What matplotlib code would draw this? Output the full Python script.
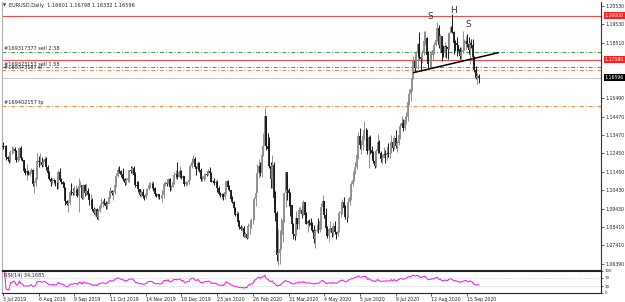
import numpy as np
import pandas as pd
import matplotlib
matplotlib.use("Agg")
import matplotlib.pyplot as plt

# ---- data (EURUSD daily, 3 Jul 2019 .. 25 Sep 2020) ----
symbol_title = "EURUSD,Daily  1.16601 1.16798 1.16332 1.16596"
first_open = 1.1284
holidays = ["2019-12-25", "2020-01-01"]

closes = [
    1.1283, 1.1284, 1.1225,
    1.1214, 1.1207, 1.1252, 1.1254, 1.1271,
    1.1260, 1.1211, 1.1223, 1.1275, 1.1219,
    1.1209, 1.1151, 1.1139, 1.1147, 1.1127,
    1.1142, 1.1156, 1.1075, 1.1085, 1.1109,
    1.1203, 1.1198, 1.1201, 1.1181, 1.1201,
    1.1215, 1.1172, 1.1138, 1.1106, 1.1090,
    1.1094, 1.1097, 1.1082, 1.1081, 1.1143,
    1.1100, 1.1089, 1.1076, 1.1058, 1.0984,
    1.0970, 1.0973, 1.1034, 1.1032, 1.1027,
    1.1043, 1.1044, 1.1011, 1.1065, 1.1073,
    1.1003, 1.1074, 1.1028, 1.1041, 1.1017,
    1.0990, 1.0992, 1.0940, 1.0921, 1.0940,
    1.0899, 1.0932, 1.0959, 1.0966, 1.0979,
    1.0971, 1.0955, 1.0970, 1.1007, 1.1042,
    1.1030, 1.1034, 1.1074, 1.1123, 1.1155,
    1.1151, 1.1125, 1.1132, 1.1105, 1.1081,
    1.1100, 1.1111, 1.1152, 1.1151, 1.1165,
    1.1127, 1.1074, 1.1069, 1.1050, 1.1018,
    1.1032, 1.1010, 1.1006, 1.1022, 1.1051,
    1.1074, 1.1077, 1.1077, 1.1054, 1.1021,
    1.1013, 1.1021, 1.1008, 1.1009, 1.1017,
    1.1078, 1.1082, 1.1077, 1.1105, 1.1059,
    1.1064, 1.1091, 1.1127, 1.1131, 1.1118,
    1.1143, 1.1151, 1.1112, 1.1122, 1.1076,
    1.1087, 1.1089, 1.1099, 1.1177,
    1.1200, 1.1213, 1.1170, 1.1159,
    1.1195, 1.1152, 1.1106, 1.1106, 1.1120,
    1.1135, 1.1129, 1.1151, 1.1136, 1.1091,
    1.1096, 1.1082, 1.1091, 1.1055, 1.1023,
    1.1019, 1.1022, 1.1006, 1.1032, 1.1093,
    1.1062, 1.1043, 1.0998, 1.0980, 1.0944,
    1.0910, 1.0916, 1.0871, 1.0840, 1.0832,
    1.0838, 1.0790, 1.0804, 1.0783, 1.0848,
    1.0854, 1.0880, 1.0880, 1.0996, 1.1026,
    1.1137, 1.1174, 1.1136, 1.1239, 1.1285,
    1.1448, 1.1285, 1.1269, 1.1175, 1.1106,
    1.1180, 1.1000, 1.0918, 1.0691, 1.0697,
    1.0721, 1.0797, 1.0882, 1.1030, 1.1142,
    1.1045, 1.1031, 1.0962, 1.0857, 1.0806,
    1.0794, 1.0891, 1.0860, 1.0936, 1.0937,
    1.0915, 1.0977, 1.0907, 1.0860, 1.0876,
    1.0862, 1.0855, 1.0824, 1.0776, 1.0821,
    1.0826, 1.0823, 1.0875, 1.0954, 1.0982,
    1.0906, 1.0838, 1.0795, 1.0830, 1.0839,
    1.0807, 1.0849, 1.0815, 1.0806, 1.0819,
    1.0917, 1.0923, 1.0977, 1.0948, 1.0899,
    1.0898, 1.0980, 1.1005, 1.1078, 1.1100,
    1.1137, 1.1171, 1.1234, 1.1339, 1.1290,
    1.1292, 1.1340, 1.1374, 1.1373, 1.1256,
    1.1333, 1.1264, 1.1249, 1.1206, 1.1178,
    1.1258, 1.1308, 1.1250, 1.1217, 1.1219,
    1.1241, 1.1234, 1.1250, 1.1240, 1.1246,
    1.1309, 1.1273, 1.1331, 1.1287, 1.1300,
    1.1344, 1.1398, 1.1412, 1.1384, 1.1427,
    1.1445, 1.1526, 1.1569, 1.1596, 1.1656,
    1.1752, 1.1716, 1.1793, 1.1846, 1.1774,
    1.1762, 1.1798, 1.1860, 1.1877, 1.1787,
    1.1735, 1.1738, 1.1786, 1.1813, 1.1842,
    1.1869, 1.1932, 1.1837, 1.1889, 1.1795,
    1.1793, 1.1835, 1.1830, 1.1820, 1.1904,
    1.1937, 1.1913, 1.1853, 1.1851, 1.1838,
    1.1815, 1.1780, 1.1800, 1.1813, 1.1844,
    1.1864, 1.1845, 1.1814, 1.1853, 1.1838,
    1.1771, 1.1703, 1.1659, 1.1670, 1.16596,
]

highs = [
    1.1306, 1.1294, 1.1292,
    1.1232, 1.1225, 1.1265, 1.1286, 1.1279,
    1.1280, 1.1264, 1.1233, 1.1282, 1.1286,
    1.1226, 1.1211, 1.1164, 1.1188, 1.1153,
    1.1150, 1.1166, 1.1161, 1.1094, 1.1117,
    1.1249, 1.1230, 1.1250, 1.1225, 1.1217,
    1.1230, 1.1228, 1.1181, 1.1148, 1.1114,
    1.1109, 1.1108, 1.1102, 1.1093, 1.1153,
    1.1164, 1.1112, 1.1096, 1.1090, 1.1063,
    1.0988, 1.0991, 1.1045, 1.1085, 1.1055,
    1.1066, 1.1073, 1.1055, 1.1109, 1.1096,
    1.1058, 1.1076, 1.1075, 1.1075, 1.1055,
    1.1026, 1.1024, 1.1000, 1.0950, 1.0946,
    1.0945, 1.0943, 1.0964, 1.0999, 1.0990,
    1.0999, 1.0985, 1.0985, 1.1034, 1.1063,
    1.1047, 1.1044, 1.1086, 1.1140, 1.1172,
    1.1179, 1.1154, 1.1138, 1.1163, 1.1110,
    1.1109, 1.1122, 1.1156, 1.1175, 1.1175,
    1.1176, 1.1141, 1.1093, 1.1092, 1.1053,
    1.1043, 1.1048, 1.1017, 1.1033, 1.1054,
    1.1089, 1.1088, 1.1096, 1.1087, 1.1063,
    1.1031, 1.1025, 1.1024, 1.1015, 1.1046,
    1.1090, 1.1093, 1.1094, 1.1109, 1.1112,
    1.1072, 1.1095, 1.1145, 1.1154, 1.1200,
    1.1154, 1.1174, 1.1152, 1.1128, 1.1124,
    1.1094, 1.1093, 1.1104, 1.1188,
    1.1222, 1.1239, 1.1226, 1.1177,
    1.1206, 1.1197, 1.1166, 1.1119, 1.1125,
    1.1139, 1.1149, 1.1162, 1.1173, 1.1144,
    1.1100, 1.1111, 1.1097, 1.1097, 1.1065,
    1.1036, 1.1030, 1.1029, 1.1040, 1.1096,
    1.1097, 1.1073, 1.1047, 1.1011, 1.0985,
    1.0953, 1.0929, 1.0923, 1.0880, 1.0852,
    1.0848, 1.0850, 1.0815, 1.0813, 1.0863,
    1.0871, 1.0891, 1.0890, 1.1004, 1.1053,
    1.1185, 1.1213, 1.1198, 1.1252, 1.1356,
    1.1495, 1.1448, 1.1355, 1.1334, 1.1200,
    1.1238, 1.1201, 1.1039, 1.0932, 1.0832,
    1.0827, 1.0890, 1.0894, 1.1035, 1.1146,
    1.1127, 1.1056, 1.1034, 1.0965, 1.0865,
    1.0839, 1.0929, 1.0891, 1.0951, 1.0951,
    1.0955, 1.0990, 1.0978, 1.0924, 1.0880,
    1.0888, 1.0889, 1.0868, 1.0851, 1.0829,
    1.0858, 1.0891, 1.0888, 1.0972, 1.1019,
    1.0977, 1.0948, 1.0849, 1.0839, 1.0875,
    1.0850, 1.0865, 1.0876, 1.0815, 1.0838,
    1.0931, 1.0975, 1.0998, 1.1008, 1.0960,
    1.0914, 1.1000, 1.1030, 1.1092, 1.1147,
    1.1155, 1.1197, 1.1258, 1.1361, 1.1384,
    1.1321, 1.1351, 1.1422, 1.1387, 1.1330,
    1.1339, 1.1348, 1.1284, 1.1257, 1.1257,
    1.1272, 1.1349, 1.1321, 1.1260, 1.1244,
    1.1280, 1.1266, 1.1288, 1.1303, 1.1255,
    1.1345, 1.1322, 1.1344, 1.1371, 1.1316,
    1.1375, 1.1410, 1.1452, 1.1433, 1.1448,
    1.1470, 1.1541, 1.1601, 1.1620, 1.1660,
    1.1778, 1.1781, 1.1806, 1.1851, 1.1908,
    1.1780, 1.1812, 1.1916, 1.1915, 1.1884,
    1.1806, 1.1808, 1.1809, 1.1831, 1.1854,
    1.1885, 1.1966, 1.1951, 1.1900, 1.1883,
    1.1842, 1.1858, 1.1838, 1.1900, 1.1913,
    1.1951, 1.2011, 1.1917, 1.1868, 1.1884,
    1.1840, 1.1827, 1.1830, 1.1917, 1.1870,
    1.1888, 1.1901, 1.1882, 1.1855, 1.1872,
    1.1870, 1.1781, 1.1726, 1.1687, 1.16798,
]

lows = [
    1.1270, 1.1275, 1.1207,
    1.1202, 1.1193, 1.1200, 1.1242, 1.1245,
    1.1255, 1.1201, 1.1201, 1.1208, 1.1210,
    1.1202, 1.1146, 1.1127, 1.1101, 1.1125,
    1.1122, 1.1137, 1.1066, 1.1027, 1.1065,
    1.1107, 1.1172, 1.1180, 1.1172, 1.1174,
    1.1190, 1.1155, 1.1137, 1.1101, 1.1066,
    1.1080, 1.1078, 1.1066, 1.1052, 1.1051,
    1.1092, 1.1076, 1.1068, 1.1052, 1.0965,
    1.0960, 1.0926, 1.0965, 1.1020, 1.1017,
    1.1019, 1.1033, 1.1004, 1.0927, 1.1060,
    1.0993, 1.0997, 1.1013, 1.1016, 1.1005,
    1.0965, 1.0981, 1.0932, 1.0914, 1.0905,
    1.0885, 1.0879, 1.0923, 1.0945, 1.0950,
    1.0964, 1.0940, 1.0942, 1.0975, 1.1000,
    1.1018, 1.0991, 1.1023, 1.1063, 1.1118,
    1.1139, 1.1116, 1.1103, 1.1095, 1.1072,
    1.1073, 1.1089, 1.1086, 1.1138, 1.1133,
    1.1122, 1.1063, 1.1063, 1.1036, 1.1013,
    1.1008, 1.1000, 1.0989, 1.0997, 1.1015,
    1.1043, 1.1056, 1.1051, 1.1042, 1.1014,
    1.1007, 1.0998, 1.0993, 1.0999, 1.0981,
    1.1003, 1.1065, 1.1066, 1.1075, 1.1040,
    1.1044, 1.1060, 1.1076, 1.1105, 1.1107,
    1.1117, 1.1133, 1.1106, 1.1106, 1.1066,
    1.1068, 1.1073, 1.1080, 1.1097,
    1.1168, 1.1195, 1.1164, 1.1126,
    1.1148, 1.1142, 1.1092, 1.1093, 1.1095,
    1.1103, 1.1123, 1.1125, 1.1127, 1.1086,
    1.1083, 1.1072, 1.1078, 1.1036, 1.1018,
    1.1009, 1.0998, 1.0992, 1.0996, 1.1023,
    1.1050, 1.1039, 1.0994, 1.0972, 1.0940,
    1.0904, 1.0890, 1.0868, 1.0833, 1.0827,
    1.0822, 1.0786, 1.0780, 1.0778, 1.0781,
    1.0805, 1.0836, 1.0857, 1.0879, 1.0958,
    1.1032, 1.1113, 1.1123, 1.1117, 1.1233,
    1.1327, 1.1262, 1.1259, 1.1164, 1.1054,
    1.1054, 1.0962, 1.0873, 1.0655, 1.0636,
    1.0637, 1.0719, 1.0760, 1.0869, 1.0953,
    1.0988, 1.0957, 1.0905, 1.0840, 1.0779,
    1.0769, 1.0798, 1.0829, 1.0832, 1.0921,
    1.0893, 1.0906, 1.0887, 1.0856, 1.0812,
    1.0848, 1.0826, 1.0813, 1.0757, 1.0727,
    1.0812, 1.0811, 1.0816, 1.0832, 1.0924,
    1.0891, 1.0824, 1.0782, 1.0767, 1.0816,
    1.0790, 1.0793, 1.0806, 1.0775, 1.0795,
    1.0814, 1.0897, 1.0916, 1.0936, 1.0887,
    1.0871, 1.0895, 1.0960, 1.0990, 1.1065,
    1.1093, 1.1132, 1.1158, 1.1215, 1.1272,
    1.1240, 1.1262, 1.1317, 1.1304, 1.1243,
    1.1168, 1.1242, 1.1222, 1.1195, 1.1168,
    1.1169, 1.1241, 1.1245, 1.1200, 1.1186,
    1.1221, 1.1191, 1.1210, 1.1226, 1.1221,
    1.1247, 1.1261, 1.1270, 1.1276, 1.1254,
    1.1294, 1.1327, 1.1389, 1.1370, 1.1376,
    1.1407, 1.1423, 1.1510, 1.1535, 1.1585,
    1.1652, 1.1690, 1.1715, 1.1710, 1.1760,
    1.1696, 1.1740, 1.1786, 1.1837, 1.1754,
    1.1712, 1.1711, 1.1718, 1.1759, 1.1790,
    1.1834, 1.1864, 1.1825, 1.1802, 1.1753,
    1.1774, 1.1776, 1.1769, 1.1762, 1.1815,
    1.1903, 1.1904, 1.1789, 1.1807, 1.1780,
    1.1807, 1.1765, 1.1754, 1.1798, 1.1810,
    1.1820, 1.1826, 1.1790, 1.1737, 1.1822,
    1.1735, 1.1692, 1.1654, 1.1627, 1.16332,
]

# horizontal lines drawn on the chart
hline_red = [1.20000, 1.17580]
current_price = 1.16596
order_lines = [
    (1.1800, "#169317377 sell 2.58", "green"),
    (1.1717, "#169373157 sell 1.58", "green"),
    (1.1701, "#169373157 sl", "orange"),
    (1.1505, "#169402157 tp", "orange"),
]
# neckline (bar index, price)
neck_x = [276, 333]
neck_y = [1.1688, 1.1797]
# head & shoulders marks (bar index, price, text)
hs_marks = [(287, 1.1993, "S"), (302.6, 1.2031, "H"), (312.7, 1.1954, "S")]

price_ticks = [1.06390, 1.07410, 1.08410, 1.09430, 1.10430, 1.11450, 1.12450,
               1.13470, 1.14470, 1.15490, 1.18510, 1.19530, 1.20530]
rsi_title = "RSI(14) 34.1685"
rsi_levels = [70, 30]

label_dates = ["2019-07-03", "2019-08-06", "2019-09-09", "2019-10-11", "2019-11-14",
               "2019-12-18", "2020-01-23", "2020-02-26", "2020-03-31", "2020-05-04",
               "2020-06-05", "2020-07-09", "2020-08-12", "2020-09-15"]

# ---- derived ----
dates = pd.bdate_range("2019-07-03", "2020-09-25")
dates = dates[~dates.isin(pd.to_datetime(holidays))]
closes = np.array(closes)
highs = np.array(highs)
lows = np.array(lows)
opens = np.concatenate([[first_open], closes[:-1]])
idx = np.arange(len(closes))


def rsi(values, period=14):
    delta = pd.Series(values).diff()
    up = delta.clip(lower=0).ewm(alpha=1 / period, adjust=False).mean()
    down = (-delta.clip(upper=0)).ewm(alpha=1 / period, adjust=False).mean()
    return (100 - 100 / (1 + up / down)).values


W, H = 625, 302
fig = plt.figure(figsize=(W / 100, H / 100), dpi=100)
fig.patch.set_facecolor("white")

def px_axes(left, top, right, bottom):
    return fig.add_axes([left / W, 1 - bottom / H, (right - left) / W, (bottom - top) / H])

ax = px_axes(2, 2, 601, 270)
ax_rsi = px_axes(2, 271, 601, 293)

xlim = (-0.7, 402.1)
small = 3.6
scale_fs = 3.3

# candles
up = closes >= opens
col = np.where(up, "#8e8e8e", "#1a1a1a")
ax.vlines(idx, lows, highs, colors=col, lw=0.7, zorder=3)
ax.vlines(idx, np.minimum(opens, closes), np.maximum(opens, closes), colors=col, lw=1.3, zorder=3)

ax.set_xlim(*xlim)
ax.set_ylim(1.06065, 1.20750)

for p in hline_red:
    ax.axhline(p, color="#f04a4a", lw=0.8, zorder=2)
ax.axhline(current_price, color="#c8c8c8", lw=0.8, zorder=1)

line_col = {"green": "#3aa03a", "orange": "#ff8040"}
for p, txt, c in order_lines:
    ax.axhline(p, color=line_col[c], lw=0.7, dashes=(4, 2, 1, 2), zorder=2)
    ax.annotate(txt, xy=(0, p), xycoords=("axes fraction", "data"), xytext=(1.5, 0.5),
                textcoords="offset points", fontsize=small, va="bottom", ha="left", color="#222222")

ax.plot(neck_x, neck_y, color="black", lw=1.1, zorder=4)
for xi, yi, t in hs_marks:
    ax.text(xi, yi, t, fontsize=6.5, ha="center", va="center", color="#333333")

ax.text(0.011, 0.995, symbol_title, transform=ax.transAxes, fontsize=small, va="top", ha="left", color="#222222")
ax.text(0.002, 0.993, "\u25bc", transform=ax.transAxes, fontsize=2.8, va="top", ha="left", color="#222222")

# right price scale
ax.yaxis.tick_right()
ax.set_yticks(price_ticks)
ax.set_yticklabels([f"{t:.5f}" for t in price_ticks])
ax.tick_params(axis="y", labelsize=scale_fs, length=2, width=0.5, pad=1.5, colors="#222222")
ax.tick_params(axis="x", bottom=False, labelbottom=False)

for p, face in [(hline_red[0], "#ff2020"), (hline_red[1], "#ff2020"), (current_price, "black")]:
    ax.annotate(f"{p:.5f}", xy=(1, p), xycoords=("axes fraction", "data"), xytext=(2.6, 0),
                textcoords="offset points", fontsize=scale_fs, va="center", ha="left", color="white",
                bbox=dict(boxstyle="square,pad=0.2", fc=face, ec="none"), annotation_clip=False, zorder=5)

ax.spines["top"].set_visible(False)
ax.spines["left"].set_color("#b0b0b0")
ax.spines["right"].set_color("#333333")
ax.spines["bottom"].set_color("#222222")
for s in ax.spines.values():
    s.set_linewidth(0.8)

# RSI panel
r = rsi(closes)
ax_rsi.plot(idx, r, color="#ff00ff", lw=0.7)
for lv in rsi_levels:
    ax_rsi.axhline(lv, color="#b4b4b4", lw=0.5, ls=(0, (1, 1.5)))
ax_rsi.set_xlim(*xlim)
ax_rsi.set_ylim(0, 100)
ax_rsi.text(0.003, 0.93, rsi_title, transform=ax_rsi.transAxes, fontsize=small, va="top", ha="left", color="#222222")
ax_rsi.yaxis.tick_right()
ax_rsi.set_yticks([100, 70, 30, 0])
ax_rsi.set_yticklabels(["100", "70", "30", "0"])
ax_rsi.tick_params(axis="y", labelsize=2.8, length=1.5, width=0.5, pad=1, colors="#222222")

tick_pos = [dates.get_loc(pd.Timestamp(d)) for d in label_dates]
ax_rsi.set_xticks(tick_pos)
ax_rsi.set_xticklabels([f"{dates[i].day} {dates[i]:%b %Y}" for i in tick_pos], ha="left")
ax_rsi.tick_params(axis="x", labelsize=scale_fs, length=2, width=0.5, pad=1, colors="#222222")
ax_rsi.spines["left"].set_color("#b0b0b0")
for s in ["top", "right", "bottom"]:
    ax_rsi.spines[s].set_color("#222222")
for s in ax_rsi.spines.values():
    s.set_linewidth(0.8)

fig.savefig("out.png", dpi=100)
